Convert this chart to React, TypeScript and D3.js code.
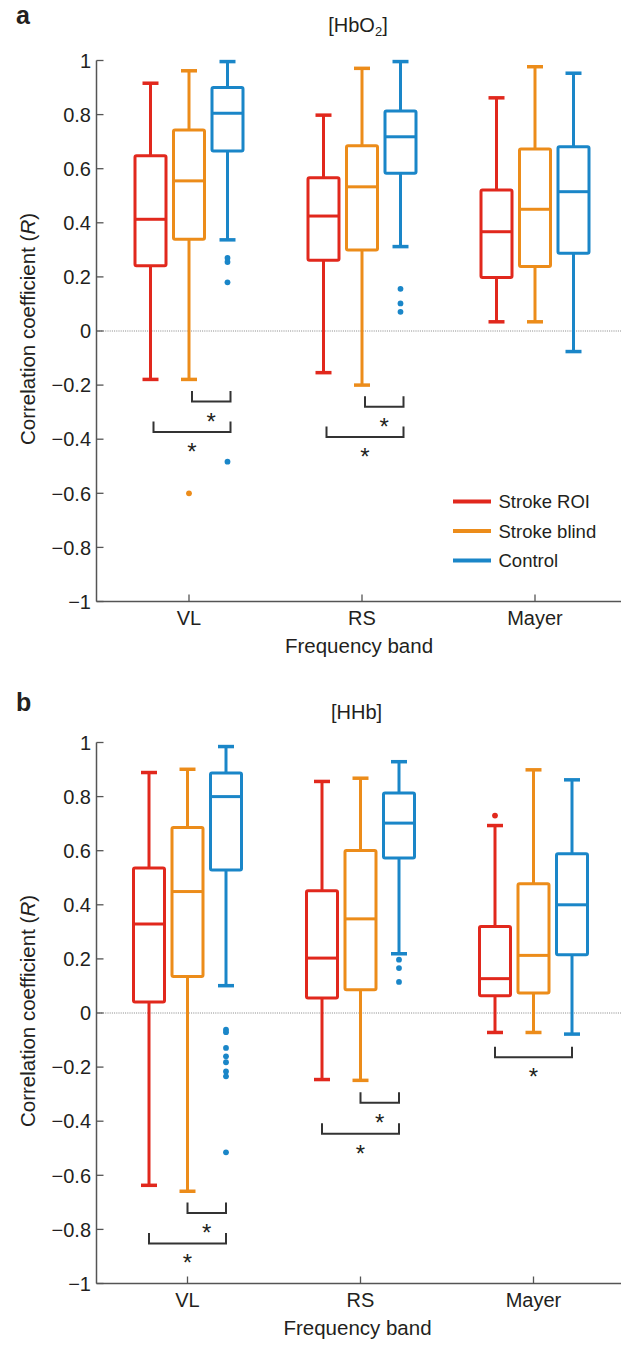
import React from "react";
import * as d3 from "d3";

// ---------- data ----------
const bands = ["VL", "RS", "Mayer"];
const groups = ["Stroke ROI", "Stroke blind", "Control"];
const groupColors = ["#e1281d", "#ec8c1a", "#1a86c8"];
const yTicks = [1, 0.8, 0.6, 0.4, 0.2, 0, -0.2, -0.4, -0.6, -0.8, -1];

// [lower whisker, Q1, median, Q3, upper whisker] per band
const hbo2StrokeROI = [
  [-0.179, 0.241, 0.413, 0.648, 0.916],
  [-0.154, 0.262, 0.425, 0.567, 0.798],
  [0.034, 0.198, 0.367, 0.521, 0.862],
];
const hbo2StrokeBlind = [
  [-0.179, 0.339, 0.555, 0.743, 0.962],
  [-0.2, 0.299, 0.533, 0.685, 0.971],
  [0.034, 0.238, 0.45, 0.673, 0.977],
];
const hbo2Control = [
  [0.337, 0.665, 0.805, 0.9, 0.996],
  [0.312, 0.583, 0.718, 0.813, 0.996],
  [-0.076, 0.287, 0.515, 0.681, 0.953],
];
const hbo2OutROI = [[], [], []];
const hbo2OutBlind = [[-0.6], [], []];
const hbo2OutControl = [[0.27, 0.255, 0.18, -0.483], [0.156, 0.102, 0.071], []];

const hhbStrokeROI = [
  [-0.637, 0.041, 0.329, 0.536, 0.889],
  [-0.246, 0.055, 0.203, 0.452, 0.856],
  [-0.072, 0.064, 0.127, 0.32, 0.693],
];
const hhbStrokeBlind = [
  [-0.659, 0.135, 0.449, 0.686, 0.901],
  [-0.249, 0.086, 0.348, 0.601, 0.868],
  [-0.072, 0.074, 0.213, 0.478, 0.899],
];
const hhbControl = [
  [0.101, 0.529, 0.8, 0.887, 0.985],
  [0.219, 0.573, 0.702, 0.813, 0.929],
  [-0.078, 0.215, 0.4, 0.589, 0.862],
];
const hhbOutROI = [[], [], [0.73]];
const hhbOutBlind = [[], [], []];
const hhbOutControl = [
  [-0.062, -0.071, -0.129, -0.16, -0.182, -0.216, -0.234, -0.515],
  [0.197, 0.166, 0.115],
  [],
];

// significance brackets: band index, from group, to group, level (R)
const hbo2Brackets = [
  { band: 0, from: 1, to: 2, y: -0.261 },
  { band: 0, from: 0, to: 2, y: -0.373 },
  { band: 1, from: 1, to: 2, y: -0.28 },
  { band: 1, from: 0, to: 2, y: -0.392 },
];
const hhbBrackets = [
  { band: 0, from: 1, to: 2, y: -0.739 },
  { band: 0, from: 0, to: 2, y: -0.852 },
  { band: 1, from: 1, to: 2, y: -0.332 },
  { band: 1, from: 0, to: 2, y: -0.446 },
  { band: 2, from: 0, to: 2, y: -0.164 },
];

const FONT = "'Liberation Sans', Arial, Helvetica, sans-serif";
const TXT = "#231f20";

type PanelProps = {
  top: number;
  xShift: number;
  letter: string;
  letterY: number;
  titleBase: string;
  titleSub?: string;
  titleY: number;
  stats: number[][][];
  outliers: number[][][];
  brackets: { band: number; from: number; to: number; y: number }[];
  bracketDx: number;
  legend: boolean;
};

function Panel(p: PanelProps) {
  const axisLeft = 96.5;
  const axisRight = 621;
  const y = d3.scaleLinear().domain([-1, 1]).range([p.top + 541, p.top]);
  const xBand = d3
    .scalePoint<string>()
    .domain(bands)
    .range([189 + p.xShift, 535 + p.xShift]);
  const xGroup = d3.scalePoint<string>().domain(groups).range([-38.5, 38.5]);
  const boxW = 31;
  const capW = 16;
  const cx = (b: number, g: number) => (xBand(bands[b]) as number) + (xGroup(groups[g]) as number);
  const y0 = y(-1);

  return (
    <g>
      <text x={16} y={p.letterY} fontFamily={FONT} fontWeight="bold" fontSize={25} fill={TXT}>
        {p.letter}
      </text>
      <text x={358 + p.xShift} y={p.titleY} fontFamily={FONT} fontSize={20} fill={TXT} textAnchor="middle">
        {p.titleSub ? (
          <>
            {p.titleBase}
            <tspan fontSize={13} dy={4}>
              {p.titleSub}
            </tspan>
            <tspan dy={-4}>]</tspan>
          </>
        ) : (
          p.titleBase
        )}
      </text>

      {/* zero reference line */}
      <line
        x1={axisLeft}
        x2={axisRight}
        y1={y(0)}
        y2={y(0)}
        stroke="#777"
        strokeWidth={0.9}
        strokeDasharray="1,1.2"
      />

      {/* axes */}
      <line x1={axisLeft} x2={axisLeft} y1={y(1)} y2={y0} stroke="#555" strokeWidth={1.5} />
      <line x1={axisLeft} x2={axisRight} y1={y0} y2={y0} stroke="#555" strokeWidth={1.5} />
      {yTicks.map((t) => (
        <g key={"yt" + t}>
          <line x1={axisLeft} x2={axisLeft + 7} y1={y(t)} y2={y(t)} stroke="#555" strokeWidth={1.3} />
          <text
            x={91}
            y={y(t)}
            dy="0.36em"
            textAnchor="end"
            fontFamily={FONT}
            fontSize={20}
            fill={TXT}
          >
            {t < 0 ? "\u2212" + Math.abs(t) : String(t)}
          </text>
        </g>
      ))}
      {bands.map((b) => (
        <g key={"xt" + b}>
          <line x1={xBand(b)} x2={xBand(b)} y1={y0} y2={y0 - 7} stroke="#555" strokeWidth={1.3} />
          <text x={xBand(b)} y={y0 + 23.5} textAnchor="middle" fontFamily={FONT} fontSize={20} fill={TXT}>
            {b}
          </text>
        </g>
      ))}
      <text x={359 + p.xShift} y={y0 + 51} textAnchor="middle" fontFamily={FONT} fontSize={20.5} fill={TXT}>
        Frequency band
      </text>
      <text
        transform={`translate(35,${(y(1) + y0) / 2 - 2}) rotate(-90)`}
        textAnchor="middle"
        fontFamily={FONT}
        fontSize={20.5}
        fill={TXT}
      >
        Correlation coefficient (<tspan fontStyle="italic">R</tspan>)
      </text>

      {/* boxes */}
      {p.stats.map((series, g) =>
        series.map((s, b) => {
          const [lo, q1, med, q3, hi] = s;
          const c = cx(b, g);
          const col = groupColors[g];
          return (
            <g key={`box${g}-${b}`} stroke={col} fill="none" strokeLinejoin="round">
              <line x1={c} x2={c} y1={y(hi)} y2={y(q3)} strokeWidth={3} />
              <line x1={c} x2={c} y1={y(q1)} y2={y(lo)} strokeWidth={3} />
              <line x1={c - capW / 2} x2={c + capW / 2} y1={y(hi)} y2={y(hi)} strokeWidth={3.5} />
              <line x1={c - capW / 2} x2={c + capW / 2} y1={y(lo)} y2={y(lo)} strokeWidth={3.5} />
              <rect x={c - boxW / 2} y={y(q3)} width={boxW} height={y(q1) - y(q3)} strokeWidth={3} rx={1.5} />
              <line x1={c - boxW / 2} x2={c + boxW / 2} y1={y(med)} y2={y(med)} strokeWidth={3} />
              {p.outliers[g][b].map((o, i) => (
                <circle key={i} cx={c} cy={y(o)} r={2.9} fill={col} stroke="none" />
              ))}
            </g>
          );
        })
      )}

      {/* significance brackets */}
      {p.brackets.map((br, i) => {
        const x1 = cx(br.band, br.from) + p.bracketDx;
        const x2 = cx(br.band, br.to) + p.bracketDx;
        const yb = y(br.y);
        return (
          <g key={"br" + i}>
            <path
              d={`M${x1},${yb - 10.5}V${yb}H${x2}V${yb - 10.5}`}
              fill="none"
              stroke="#333"
              strokeWidth={2}
            />
            <text
              x={(x1 + x2) / 2}
              y={yb + 28}
              textAnchor="middle"
              fontFamily={FONT}
              fontSize={24}
              fill={TXT}
            >
              *
            </text>
          </g>
        );
      })}

      {/* legend */}
      {p.legend &&
        groups.map((gname, i) => (
          <g key={"lg" + i}>
            <line
              x1={453}
              x2={491}
              y1={p.top + 441 + i * 29.5}
              y2={p.top + 441 + i * 29.5}
              stroke={groupColors[i]}
              strokeWidth={4}
            />
            <text
              x={498.5}
              y={p.top + 441 + i * 29.5}
              dy="0.36em"
              fontFamily={FONT}
              fontSize={18.5}
              fill={TXT}
            >
              {gname}
            </text>
          </g>
        ))}
    </g>
  );
}

export default function App() {
  return (
    <svg
      width={621}
      height={1351}
      viewBox="0 0 621 1351"
      style={{ position: "absolute", left: 0, top: 0, background: "#fff" }}
    >
      <rect x={0} y={0} width={621} height={1351} fill="#fff" />
      <Panel
        top={60.5}
        xShift={0}
        letter="a"
        letterY={24}
        titleBase="[HbO"
        titleSub="2"
        titleY={32}
        stats={[hbo2StrokeROI, hbo2StrokeBlind, hbo2Control]}
        outliers={[hbo2OutROI, hbo2OutBlind, hbo2OutControl]}
        brackets={hbo2Brackets}
        bracketDx={3}
        legend={true}
      />
      <Panel
        top={742.5}
        xShift={-1.5}
        letter="b"
        letterY={711}
        titleBase="[HHb]"
        titleY={719}
        stats={[hhbStrokeROI, hhbStrokeBlind, hhbControl]}
        outliers={[hhbOutROI, hhbOutBlind, hhbOutControl]}
        brackets={hhbBrackets}
        bracketDx={0}
        legend={false}
      />
    </svg>
  );
}
